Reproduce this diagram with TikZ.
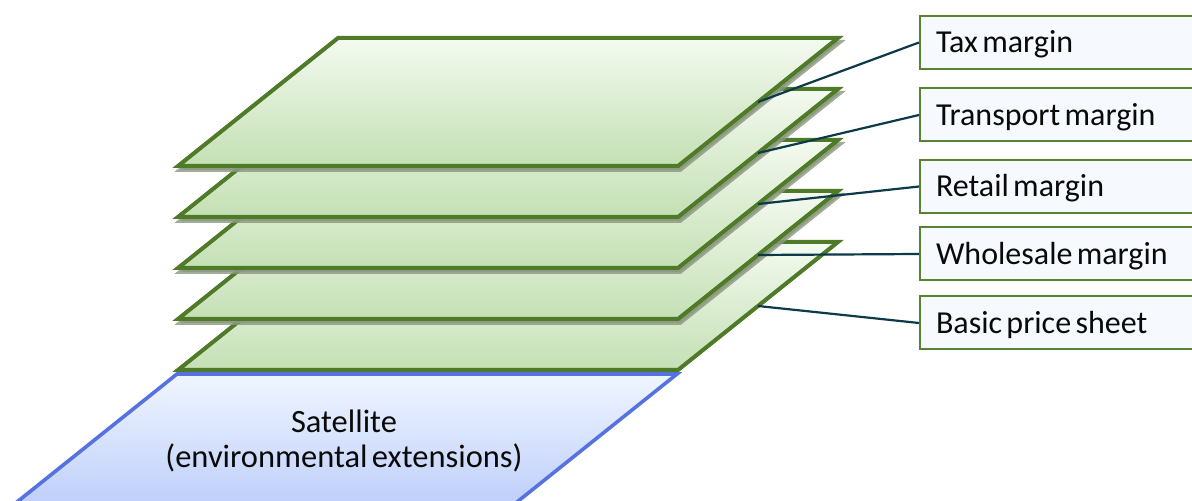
\documentclass[tikz,border=0pt]{standalone}
\usepackage{fontspec}
\setmainfont{Carlito}[WordSpace=0.6]
\usetikzlibrary{calc}

\definecolor{planeedge}{RGB}{79,122,40}
\definecolor{planetop}{RGB}{244,250,240}
\definecolor{planebot}{RGB}{196,224,180}
\definecolor{planeshadow}{RGB}{138,152,126}
\definecolor{satedge}{RGB}{86,114,224}
\definecolor{sattop}{RGB}{240,246,255}
\definecolor{satbot}{RGB}{188,205,250}
\definecolor{labelfill}{RGB}{246,250,254}
\definecolor{labeledge}{RGB}{88,130,52}
\definecolor{leader}{RGB}{12,58,72}
\definecolor{ink}{RGB}{10,10,10}

\begin{document}
\begin{tikzpicture}[x=0.5pt,y=-0.5pt,
  plane/.style={draw=planeedge, line width=2pt, line join=miter,
    top color=planetop, bottom color=planebot},
  planeshade/.style={fill=planeshadow, draw=planeshadow, line width=2pt},
  satplane/.style={draw=satedge, line width=1.8pt, line join=miter,
    top color=sattop, bottom color=satbot},
  labelbox/.style={draw=labeledge, line width=1pt, fill=labelfill,
    anchor=west, text width=124.5pt, inner xsep=8pt, inner ysep=0pt,
    minimum height=26.5pt, align=left, text=ink,
    execute at begin node={\spaceskip=0pt\relax},
    font=\fontsize{16pt}{18pt}\selectfont, text height=10.3pt, text depth=0pt},
  leaderline/.style={draw=leader, line width=1.1pt}
]
\useasboundingbox (0,0) rectangle (1192,501);
\clip (0,0) rectangle (1192,501);

% satellite sheet at the bottom of the stack
\draw[satplane] (177,374) -- (677,374) -- (507,510) -- (7,510) -- cycle;
\node[font=\fontsize{16.25pt}{17.5pt}\selectfont, align=center, text=ink]
  (sat) at (344,441) {Satellite\\(environmental extensions)};

% stacked price sheets, drawn from the bottom up
\foreach \name/\t/\op in {basic/242/0, wholesale/191/0.8, retail/140/0.8,
                          transport/89/0.8, tax/38/0.8} {
  \path[planeshade, opacity=\op, shift={(2,4)}]
    (338,\t) -- (838,\t) -- (678,\t+128) -- (178,\t+128) -- cycle;
  \draw[plane] (338,\t) -- (838,\t) -- (678,\t+128) -- (178,\t+128) -- cycle;
  \coordinate (\name-edge) at (758,\t+64);
}

% labels
\node[labelbox] (tax)       at (919,42.5)  {Tax margin};
\node[labelbox] (transport) at (919,115)   {Transport margin};
\node[labelbox] (retail)    at (919,186.5) {Retail margin};
\node[labelbox] (wholesale) at (919,254)   {Wholesale margin};
\node[labelbox] (basic)     at (919,323)   {Basic price sheet};

% leader lines from sheet edges to labels
\foreach \name in {tax, transport, retail, wholesale, basic}
  \draw[leaderline] (\name-edge) -- (\name.west);
\end{tikzpicture}
\end{document}
